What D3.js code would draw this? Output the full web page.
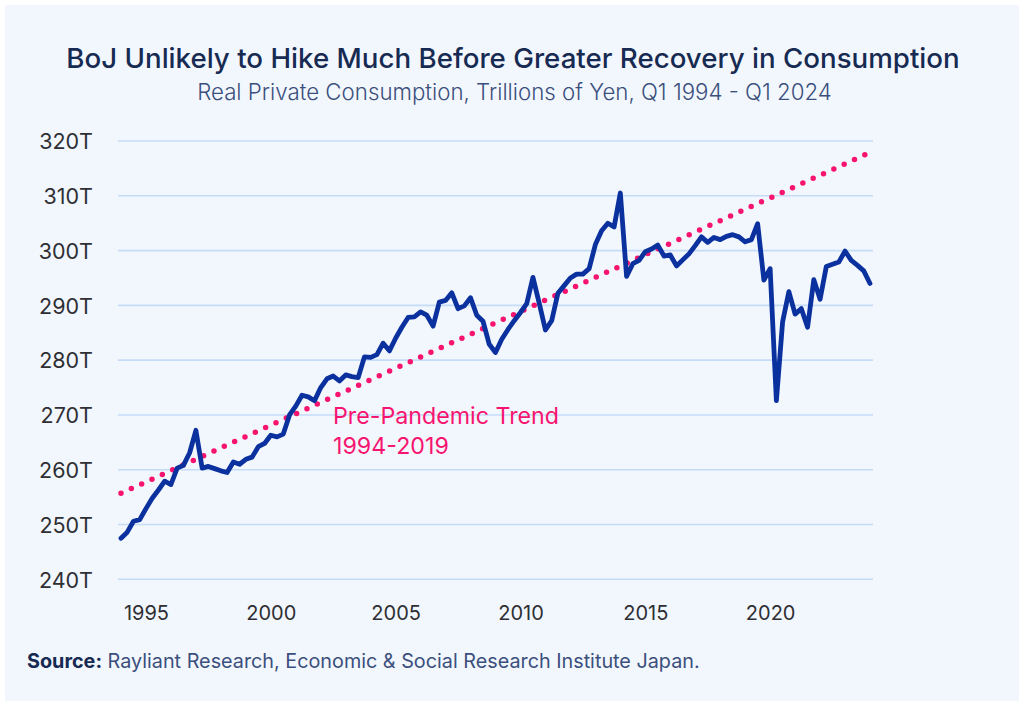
<!DOCTYPE html>
<html>
<head>
<meta charset="utf-8">
<script src="https://cdn.jsdelivr.net/npm/d3@7"></script>
<style>
  html, body { margin: 0; padding: 0; background: #ffffff; }
  svg { display: block; }
  text { font-family: Inter, "Noto Sans", sans-serif; }
</style>
</head>
<body>
<svg id="chart" width="1024" height="706"></svg>
<script>
// ---- Data ----
const startYear = 1994;           // first quarter: Q1 1994
const consumption = [             // trillions of yen, quarterly Q1 1994 .. Q1 2024
  247.5, 248.6, 250.6, 250.9, 252.9, 254.8, 256.3, 257.9,
  257.3, 260.3, 260.8, 263.1, 267.2, 260.3, 260.6, 260.2,
  259.8, 259.5, 261.4, 261.0, 261.9, 262.3, 264.2, 264.8,
  266.3, 266.0, 266.5, 270.0, 271.6, 273.6, 273.3, 272.6,
  275.0, 276.6, 277.1, 276.2, 277.3, 277.0, 276.8, 280.6,
  280.5, 281.0, 283.1, 281.7, 284.0, 286.0, 287.8, 287.9,
  288.8, 288.2, 286.2, 290.6, 290.9, 292.3, 289.4, 289.9,
  291.4, 288.2, 287.1, 282.9, 281.4, 283.8, 285.6, 287.2,
  288.7, 290.3, 295.1, 290.4, 285.5, 287.2, 292.2, 293.6,
  295.0, 295.7, 295.7, 296.7, 301.1, 303.6, 305.0, 304.3,
  310.5, 295.3, 297.6, 298.2, 299.8, 300.3, 301.0, 299.0,
  299.2, 297.2, 298.3, 299.4, 300.9, 302.5, 301.5, 302.4,
  302.0, 302.6, 302.9, 302.5, 301.6, 302.0, 304.9, 294.6,
  296.7, 272.6, 287.0, 292.5, 288.4, 289.4, 286.0, 294.7,
  291.1, 297.1, 297.5, 297.9, 299.9, 298.2, 297.3, 296.3,
  294.0
];
const trendQuarters = [0, 120];          // trend drawn from Q1 1994 to Q1 2024
const trendValues = [255.7, 317.9];      // pre-pandemic linear trend (1994-2019)
const yTicks = [240, 250, 260, 270, 280, 290, 300, 310, 320];
const yTickLabels = ["240T", "250T", "260T", "270T", "280T", "290T", "300T", "310T", "320T"];
const xTickYears = [1995, 2000, 2005, 2010, 2015, 2020];

const titleText = "BoJ Unlikely to Hike Much Before Greater Recovery in Consumption";
const subtitleText = "Real Private Consumption, Trillions of Yen, Q1 1994 - Q1 2024";
const annotationLines = ["Pre-Pandemic Trend", "1994-2019"];
const sourceBold = "Source:";
const sourceRest = " Rayliant Research, Economic & Social Research Institute Japan.";

// ---- Layout ----
const svg = d3.select("#chart");
const NAVY = "#172a52";
const LINE = "#0b319f";
const PINK = "#f7146f";
const GRID = "#c4dcf8";

svg.append("rect").attr("x", 5).attr("y", 5).attr("width", 1014).attr("height", 696)
  .attr("fill", "#f2f7fe");

const x = d3.scaleLinear().domain([0, 120]).range([121, 870]);
const y = d3.scaleLinear().domain([240, 320]).range([579.3, 141]);

function fitWidth(sel, target) {
  const w = sel.node().getComputedTextLength();
  const fs = parseFloat(sel.attr("font-size"));
  sel.attr("font-size", (fs * target / w).toFixed(2));
}

// Gridlines
svg.append("g").selectAll("line").data(yTicks).join("line")
  .attr("x1", 118).attr("x2", 873)
  .attr("y1", d => y(d)).attr("y2", d => y(d))
  .attr("stroke", GRID).attr("stroke-width", 1.6);

// Y axis labels
const yAxis = d3.axisLeft(y).tickValues(yTicks).tickSize(0).tickPadding(0)
  .tickFormat((d, i) => yTickLabels[i]);
const gy = svg.append("g").attr("transform", "translate(93,0)").call(yAxis);
gy.select(".domain").remove();
gy.selectAll("text").attr("font-family", "Inter, sans-serif").attr("font-size", 21.5)
  .attr("fill", "#2f2f33").attr("dy", "0.36em").attr("text-anchor", "end");

// X axis labels
const xAxis = d3.axisBottom(x).tickValues(xTickYears.map(yr => (yr - startYear) * 4))
  .tickSize(0).tickPadding(0).tickFormat(d => String(startYear + d / 4));
const gx = svg.append("g").attr("transform", "translate(0,620)").call(xAxis);
gx.select(".domain").remove();
gx.selectAll("text").attr("font-family", "Inter, sans-serif").attr("font-size", 20)
  .attr("fill", "#2f2f33").attr("dy", 0).attr("y", 0);

// Trend line (dotted)
const trendData = trendQuarters.map((q, i) => ({ q, v: trendValues[i] }));
svg.append("path").datum(trendData)
  .attr("d", d3.line().x(d => x(d.q)).y(d => y(d.v)))
  .attr("fill", "none").attr("stroke", PINK).attr("stroke-width", 5.5)
  .attr("stroke-linecap", "round").attr("stroke-dasharray", "0 11.35");

// Consumption line
svg.append("path").datum(consumption)
  .attr("d", d3.line().x((d, i) => x(i)).y(d => y(d)))
  .attr("fill", "none").attr("stroke", LINE).attr("stroke-width", 4.8)
  .attr("stroke-linejoin", "round").attr("stroke-linecap", "round");

// Annotation
const ann = svg.append("g");
annotationLines.forEach((t, i) => {
  ann.append("text").attr("x", 333).attr("y", 424 + i * 30)
    .attr("font-size", 20).attr("fill", PINK).text(t);
});
fitWidth(ann.select("text"), 226);
ann.selectAll("text").attr("font-size", ann.select("text").attr("font-size"));

// Title and subtitle
const title = svg.append("text").attr("x", 513).attr("y", 68).attr("text-anchor", "middle")
  .attr("font-size", 27).attr("font-weight", 500).attr("fill", NAVY).text(titleText);
fitWidth(title, 894);
const sub = svg.append("text").attr("x", 514.5).attr("y", 100).attr("text-anchor", "middle")
  .attr("font-size", 19).attr("font-weight", 300).attr("fill", "#3b4f7c").text(subtitleText);
fitWidth(sub, 635);

// Source
const src = svg.append("text").attr("x", 27).attr("y", 668).attr("font-size", 17);
src.append("tspan").attr("font-weight", 700).attr("fill", NAVY).text(sourceBold);
src.append("tspan").attr("font-weight", 400).attr("fill", "#3b4f7c").text(sourceRest);
fitWidth(src, 673);
</script>
</body>
</html>
